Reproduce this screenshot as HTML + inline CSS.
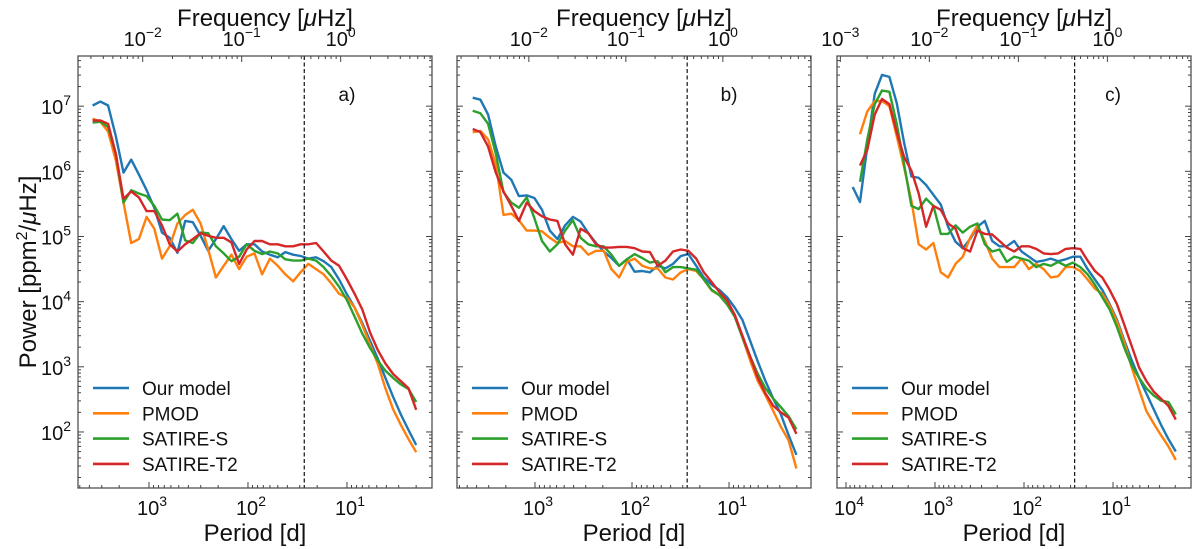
<!DOCTYPE html>
<html><head><meta charset="utf-8">
<style>
html,body{margin:0;padding:0;background:#fff;}
svg{display:block;font-family:"Liberation Sans","DejaVu Sans",sans-serif;}
</style></head>
<body>
<svg id="chart" width="1200" height="549" viewBox="0 0 1200 549" xmlns="http://www.w3.org/2000/svg"></svg>
<script>
// ---------- data (period in days, log10 power in ppm^2/uHz) ----------
const seriesNames = ["Our model", "PMOD", "SATIRE-S", "SATIRE-T2"];
const seriesColors = ["#1f77b4", "#ff7f0e", "#2ca02c", "#d62728"];
const panelLabels = ["a)", "b)", "c)"];
const rotationPeriod = 27;

const periodsA = [3707,3099,2590,2165,1810,1513,1265,1057,884,739,617,516,431,361,301,252,211,176,147,123,103,86,72,60,50,42,35,29.4,24.6,20.5,17.2,14.4,12.0,10.0,8.38,7.00,5.85,4.89,4.09,3.42,2.86,2.39,2.00];
const ourModelA = [7.01,7.07,7.01,6.54,5.98,6.18,5.95,5.71,5.44,5.06,4.98,4.75,5.24,5.22,5.01,4.78,4.96,5.16,4.96,4.78,4.88,4.88,4.77,4.72,4.68,4.76,4.72,4.70,4.66,4.68,4.62,4.53,4.34,4.11,3.91,3.67,3.40,3.13,2.83,2.54,2.27,2.03,1.80];
const pmodA = [6.81,6.76,6.61,6.17,5.52,4.90,4.96,5.30,5.12,4.66,4.85,5.20,5.33,5.41,5.20,4.80,4.37,4.55,4.72,4.50,4.69,4.74,4.42,4.66,4.55,4.42,4.31,4.45,4.58,4.50,4.42,4.28,4.12,4.06,3.91,3.64,3.34,3.05,2.67,2.35,2.11,1.89,1.69];
const satireSA = [6.75,6.76,6.68,6.27,5.52,5.71,5.66,5.62,5.47,5.26,5.25,5.35,4.94,4.90,5.06,5.05,4.85,4.74,4.62,4.69,4.88,4.78,4.73,4.77,4.74,4.65,4.63,4.63,4.66,4.63,4.53,4.39,4.23,4.02,3.77,3.51,3.29,3.10,2.94,2.83,2.73,2.66,2.46];
const satireT2A = [6.78,6.78,6.73,6.27,5.58,5.69,5.60,5.39,5.39,5.17,4.88,4.77,4.88,4.96,5.05,5.01,4.98,4.98,4.91,4.58,4.80,4.93,4.93,4.88,4.88,4.85,4.85,4.88,4.88,4.90,4.77,4.63,4.55,4.34,4.12,3.88,3.53,3.26,3.05,2.89,2.78,2.67,2.34];

const periodsB = [4385,3652,3042,2533,2110,1757,1464,1219,1015,846,704,587,489,407,339,282,235,196,163,136,113,94,78.5,65.4,54.4,45.3,37.8,31.4,26.2,21.8,18.2,15.1,12.6,10.5,8.74,7.28,6.06,5.05,4.21,3.50,2.92,2.43,2.02];
const ourModelB = [7.13,7.10,6.87,6.38,5.98,5.87,5.62,5.63,5.59,5.41,5.09,4.96,5.17,5.30,5.23,5.05,4.90,4.77,4.67,4.55,4.65,4.46,4.47,4.45,4.55,4.51,4.58,4.70,4.73,4.55,4.37,4.26,4.18,4.07,3.91,3.72,3.40,3.08,2.78,2.51,2.27,1.95,1.65];
const pmodB = [6.60,6.62,6.49,6.11,5.33,5.35,5.25,5.09,5.09,5.08,4.98,4.90,4.93,4.85,4.85,4.72,4.78,4.78,4.50,4.37,4.61,4.66,4.55,4.51,4.51,4.37,4.34,4.45,4.50,4.47,4.34,4.17,4.10,3.96,3.80,3.45,3.10,2.78,2.56,2.32,2.08,1.87,1.44];
const satireSB = [6.93,6.89,6.73,6.27,5.68,5.52,5.44,5.60,5.28,4.93,4.77,4.88,5.09,5.25,4.98,4.88,4.85,4.85,4.72,4.55,4.65,4.73,4.67,4.60,4.62,4.45,4.53,4.53,4.51,4.49,4.34,4.18,4.10,3.96,3.77,3.45,3.16,2.89,2.67,2.51,2.38,2.24,2.04];
const satireT2B = [6.65,6.60,6.38,5.98,5.69,5.47,5.24,5.52,5.39,5.31,5.26,5.24,4.88,4.72,5.12,5.05,4.88,4.83,4.83,4.84,4.84,4.82,4.77,4.76,4.55,4.63,4.77,4.80,4.78,4.66,4.45,4.30,4.15,4.02,3.80,3.48,3.16,2.83,2.59,2.40,2.30,2.22,1.97];

const periodsC = [8414,6958,5755,4759,3936,3255,2692,2226,1841,1523,1259,1041,861,712,589,487,403,333,276,228,188.6,156,129,106.7,88.2,73.0,60.3,49.9,41.3,34.1,28.2,23.3,19.3,16.0,13.2,10.9,9.02,7.46,6.17,5.10,4.22,3.49,2.89,2.39,1.97];
const ourModelC = [5.76,5.53,6.38,7.19,7.48,7.45,7.05,6.44,5.92,5.90,5.79,5.64,5.49,5.15,4.92,4.82,4.96,5.15,5.24,4.93,4.85,4.85,4.93,4.77,4.69,4.61,4.63,4.66,4.62,4.65,4.69,4.69,4.50,4.34,4.18,3.96,3.72,3.40,3.10,2.83,2.59,2.35,2.11,1.89,1.70];
const pmodC = [null,6.57,6.92,7.08,7.08,7.00,6.54,6.06,5.55,4.88,4.80,4.90,4.45,4.37,4.58,4.69,4.98,5.17,4.93,4.66,4.53,4.53,4.53,4.66,4.50,4.58,4.50,4.37,4.39,4.53,4.53,4.47,4.34,4.20,4.12,3.94,3.69,3.37,2.99,2.65,2.32,2.13,1.95,1.78,1.57];
const satireSC = [null,5.84,6.49,7.03,7.24,7.22,6.73,6.11,5.47,5.42,5.58,5.47,5.04,5.04,5.17,5.06,5.15,5.20,4.88,4.77,4.80,4.61,4.69,4.66,4.63,4.53,4.58,4.55,4.61,4.55,4.60,4.53,4.42,4.26,4.07,3.88,3.61,3.29,3.02,2.83,2.67,2.56,2.48,2.46,2.27];
const satireT2C = [null,6.09,6.33,6.87,7.11,7.03,6.60,6.22,6.01,5.66,5.15,5.47,5.41,5.20,5.12,4.82,4.77,5.09,5.04,5.03,4.93,4.83,4.77,4.85,4.85,4.81,4.74,4.73,4.74,4.81,4.82,4.81,4.63,4.47,4.37,4.18,3.96,3.64,3.32,2.99,2.78,2.62,2.51,2.40,2.19];

const panelPeriods = [periodsA, periodsB, periodsC];
const panelSeries = [
  [ourModelA, pmodA, satireSA, satireT2A],
  [ourModelB, pmodB, satireSB, satireT2B],
  [ourModelC, pmodC, satireSC, satireT2C]
];
const yTickExponents = [2,3,4,5,6,7];

// ---------- layout ----------
const NS = "http://www.w3.org/2000/svg";
const svg = document.getElementById("chart");
const plotTop = 56, plotBottom = 488;
const yLogMax = 7.77, yLogMin = 1.14;
const panels = [
  {left:78,  right:432, logMax:3.717, logMin:0.141, freqTicks:[-2,-1,0]},
  {left:457, right:811, logMax:3.804, logMin:0.155, freqTicks:[-2,-1,0]},
  {left:837, right:1191, logMax:4.101, logMin:0.124, freqTicks:[-3,-2,-1,0]}
];
const FREQ_OFFSET = Math.log10(1e6/86400); // log10(uHz * days)

function mk(tag, attrs, parent){
  const e = document.createElementNS(NS, tag);
  for (const k in attrs) e.setAttribute(k, attrs[k]);
  (parent||svg).appendChild(e);
  return e;
}
function yScale(logv){ return plotTop + (yLogMax - logv)/(yLogMax - yLogMin)*(plotBottom - plotTop); }

panels.forEach((p, pi) => {
  const g = mk("g", {});
  
  
  const xScale = lp => p.left + (p.logMax - lp)/(p.logMax - p.logMin)*(p.right - p.left);

  const periods = panelPeriods[pi];
  panelSeries[pi].forEach((vals, si) => {
    let d = "";
    let started = false;
    vals.forEach((v, k) => {
      if (v === null) { started = false; return; }
      const x = xScale(Math.log10(periods[k])), y = yScale(v);
      d += (started ? "L" : "M") + x.toFixed(1) + "," + y.toFixed(1);
      started = true;
    });
    const path = mk("path", {d:d, fill:"none", stroke:seriesColors[si], "stroke-width":2.4, "stroke-linejoin":"round"}, g);
    
    
  });

  const rx = xScale(Math.log10(rotationPeriod));
  const dl = mk("line", {x1:rx, x2:rx, y1:plotTop, y2:plotBottom, stroke:"#111", "stroke-width":1.2, "stroke-dasharray":"4,2.5"}, g);
  
  

  const fr = mk("rect", {x:p.left, y:plotTop, width:p.right-p.left, height:plotBottom-plotTop, fill:"none", stroke:"#444", "stroke-width":1.2}, g);
  
  

  const tickStyle = {stroke:"#444", "stroke-width":1};
  for (let e = 1; e <= 8; e++) {
    for (let m = 1; m <= 9; m++) {
      const lv = e + Math.log10(m);
      if (lv < yLogMin || lv > yLogMax) continue;
      const y = yScale(lv), len = m === 1 ? 6 : 3;
      mk("line", Object.assign({x1:p.left, x2:p.left+len, y1:y, y2:y}, tickStyle), g);
      mk("line", Object.assign({x1:p.right, x2:p.right-len, y1:y, y2:y}, tickStyle), g);
    }
  }
  if (pi === 0) {
    yTickExponents.forEach(e => {
      const t = mk("text", {x:p.left-7, y:yScale(e)+8, "text-anchor":"end", "font-size":20, fill:"#111"}, g);
      
      
      t.innerHTML = '10<tspan dy="-9" font-size="14">' + e + '</tspan>';
    });
  }
  for (let e = -1; e <= 4; e++) {
    for (let m = 1; m <= 9; m++) {
      const lv = e + Math.log10(m);
      if (lv < p.logMin || lv > p.logMax) continue;
      const x = xScale(lv), len = m === 1 ? 6 : 3;
      mk("line", Object.assign({x1:x, x2:x, y1:plotBottom, y2:plotBottom-len}, tickStyle), g);
      if (m === 1) {
        const t = mk("text", {x:x+3, y:plotBottom+27, "text-anchor":"middle", "font-size":20, fill:"#111"}, g);
        
        
        t.innerHTML = '10<tspan dy="-9" font-size="14">' + e + '</tspan>';
      }
    }
  }
  for (let e = -4; e <= 1; e++) {
    for (let m = 1; m <= 9; m++) {
      const lf = e + Math.log10(m);
      const lv = FREQ_OFFSET - lf;
      if (lv < p.logMin || lv > p.logMax) continue;
      const x = xScale(lv), len = m === 1 ? 6 : 3;
      mk("line", Object.assign({x1:x, x2:x, y1:plotTop, y2:plotTop+len}, tickStyle), g);
      if (m === 1 && p.freqTicks.indexOf(e) >= 0) {
        const t = mk("text", {x:x, y:plotTop-10, "text-anchor":"middle", "font-size":20, fill:"#111"}, g);
        
        
        t.innerHTML = '10<tspan dy="-9" font-size="14">' + (e < 0 ? '\u2212' + (-e) : e) + '</tspan>';
      }
    }
  }
  const cx = (p.left + p.right)/2;
  const xt = mk("text", {x:cx, y:541, "text-anchor":"middle", "font-size":24, fill:"#111"}, g);
  
  
  xt.textContent = "Period [d]";
  const tt = mk("text", {x:cx+10, y:26, "text-anchor":"middle", "font-size":24, fill:"#111"}, g);
  
  
  tt.innerHTML = 'Frequency [<tspan font-style="italic">\u03bc</tspan>Hz]';
  const pl = mk("text", {x:xScale(1), y:101, "text-anchor":"middle", "font-size":19, fill:"#111"}, g);
  
  
  pl.textContent = panelLabels[pi];

  const lg = mk("g", {}, g);
  
  
  seriesNames.forEach((n, si) => {
    const y = 388 + si*25.3;
    const ln = mk("line", {x1:p.left+15, x2:p.left+51, y1:y, y2:y, stroke:seriesColors[si], "stroke-width":2.6}, lg);
    
    
    const t = mk("text", {x:p.left+64, y:y+7, "font-size":19, fill:"#111"}, lg);
    
    
    t.textContent = n;
  });
});

const yt = mk("text", {x:0, y:0, "text-anchor":"middle", "font-size":24, fill:"#111", transform:"translate(36,272) rotate(-90)"});


yt.innerHTML = 'Power [ppm<tspan dy="-9" font-size="16">2</tspan><tspan dy="9">/</tspan><tspan font-style="italic">\u03bc</tspan>Hz]';
</script>
</body></html>
